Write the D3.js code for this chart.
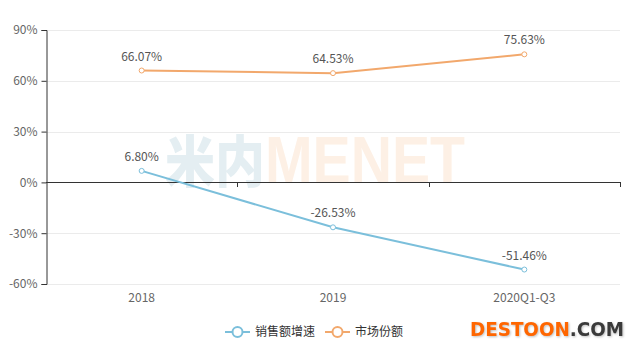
<!DOCTYPE html>
<html>
<head>
<meta charset="utf-8">
<script src="https://cdn.jsdelivr.net/npm/d3@7"></script>
<style>
  body { margin: 0; background: #fff; }
  svg { display: block; font-family: "Noto Sans CJK SC", "Noto Sans", sans-serif; }
</style>
</head>
<body>
<div id="chart"></div>
<script>
// data
const categories = ["2018", "2019", "2020Q1-Q3"]
const salesGrowth = [6.80, -26.53, -51.46]
const marketShare = [66.07, 64.53, 75.63]
const yTicks = [-60, -30, 0, 30, 60, 90]
const seriesNames = ["销售额增速", "市场份额"]
const colors = ["#7bbfdb", "#f2a86c"]

const width = 640, height = 352
const margin = {top: 30, right: 20, bottom: 68, left: 46}

const svg = d3.select("#chart")
  .append("svg")
    .attr("width", width)
    .attr("height", height)

const x = d3.scaleBand()
  .domain(categories)
  .range([margin.left, width - margin.right])

const y = d3.scaleLinear()
  .domain([-60, 90])
  .range([height - margin.bottom, margin.top])

// grid lines
svg.append("g")
  .selectAll("line")
  .data(yTicks.filter(d => d !== 0))
  .join("line")
    .attr("x1", margin.left)
    .attr("x2", width - margin.right)
    .attr("y1", d => Math.round(y(d)) + 0.5)
    .attr("y2", d => Math.round(y(d)) + 0.5)
    .attr("stroke", "#ebebeb")

// watermark
const wmCn = svg.append("text")
  .attr("x", 165)
  .attr("y", 182)
  .attr("textLength", 100)
  .attr("lengthAdjust", "spacingAndGlyphs")
  .attr("fill", "#e4eef2")
  .style("font-family", "'Noto Sans CJK SC', sans-serif")
  .style("font-weight", "900")
  .style("font-size", "56px")
  .text("米内")
svg.append("text")
  .attr("x", 265)
  .attr("y", 183)
  .attr("textLength", 200)
  .attr("lengthAdjust", "spacingAndGlyphs")
  .attr("fill", "#fdf0e5")
  .style("font-family", "'Liberation Sans', Arial, sans-serif")
  .style("font-weight", "bold")
  .style("font-size", "66px")
  .text("MENET")

// y axis
const yAxis = svg.append("g")
  .attr("transform", `translate(${margin.left + 0.5},0)`)
  .call(d3.axisLeft(y).tickValues(yTicks).tickFormat(d => d + "%").tickSize(5).tickPadding(4))
yAxis.select(".domain").attr("stroke", "#333")
yAxis.selectAll(".tick line").attr("stroke", "#333")
yAxis.selectAll(".tick text").attr("fill", "#666").style("font-size", "12px")
  .style("font-family", "'Noto Sans CJK SC', sans-serif")

// x axis on zero
const xAxis = svg.append("g")
  .attr("transform", `translate(0,${Math.round(y(0)) + 0.5})`)
  .call(d3.axisBottom(x).tickSize(0).tickFormat(""))
xAxis.select(".domain").attr("stroke", "#333").attr("d", `M${margin.left},0H${width - margin.right}`)
xAxis.selectAll(".tick").remove()

// boundary ticks
svg.append("g")
  .selectAll("line")
  .data(categories)
  .join("line")
    .attr("x1", d => Math.round(x(d) + x.bandwidth()) + 0.5)
    .attr("x2", d => Math.round(x(d) + x.bandwidth()) + 0.5)
    .attr("y1", Math.round(y(0)))
    .attr("y2", Math.round(y(0)) + 5)
    .attr("stroke", "#333")

// category labels at bottom
svg.append("g")
  .selectAll("text")
  .data(categories)
  .join("text")
    .attr("x", d => x(d) + x.bandwidth() / 2)
    .attr("y", y(-60) + 18)
    .attr("text-anchor", "middle")
    .attr("fill", "#666")
    .style("font-size", "12px")
    .text(d => d)

// series
const series = [salesGrowth, marketShare]
const line = d3.line()
  .x((d, i) => x(categories[i]) + x.bandwidth() / 2)
  .y(d => y(d))

series.forEach((values, s) => {
  svg.append("path")
    .datum(values)
    .attr("d", line)
    .attr("fill", "none")
    .attr("stroke", colors[s])
    .attr("stroke-width", 2)

  svg.append("g")
    .selectAll("circle")
    .data(values)
    .join("circle")
      .attr("cx", (d, i) => x(categories[i]) + x.bandwidth() / 2)
      .attr("cy", d => y(d))
      .attr("r", 2.5)
      .attr("fill", "#fff")
      .attr("stroke", colors[s])
      .attr("stroke-width", 1)

  svg.append("g")
    .selectAll("text")
    .data(values)
    .join("text")
      .attr("x", (d, i) => x(categories[i]) + x.bandwidth() / 2)
      .attr("y", d => y(d) - 10)
      .attr("text-anchor", "middle")
      .attr("fill", "#555")
      .style("font-size", "12px")
      .text(d => d.toFixed(2) + "%")
})

// legend
const legendX = [225, 325]
const legend = svg.append("g")
  .selectAll("g")
  .data(seriesNames)
  .join("g")
    .attr("transform", (d, i) => `translate(${legendX[i]},332)`)
legend.append("line")
  .attr("x1", 0).attr("x2", 25)
  .attr("stroke", (d, i) => colors[i])
  .attr("stroke-width", 2)
legend.append("circle")
  .attr("cx", 12.5)
  .attr("r", 5)
  .attr("fill", "#fff")
  .attr("stroke", (d, i) => colors[i])
  .attr("stroke-width", 2)
legend.append("text")
  .attr("x", 30)
  .attr("y", 4)
  .attr("fill", "#333")
  .style("font-size", "12px")
  .text(d => d)

// destoon mark
const dt = svg.append("text")
  .attr("x", 470)
  .attr("y", 336)
  .attr("textLength", 154)
  .attr("lengthAdjust", "spacingAndGlyphs")
  .style("font-family", "'DejaVu Sans', sans-serif")
  .style("font-weight", "bold")
  .style("font-size", "19px")
  .style("filter", "drop-shadow(1px 1px 1px rgba(0,0,0,0.25))")
dt.append("tspan").attr("fill", "#ff6600").text("DESTOON")
dt.append("tspan").attr("fill", "#3a3a3a").text(".COM")
</script>
</body>
</html>
